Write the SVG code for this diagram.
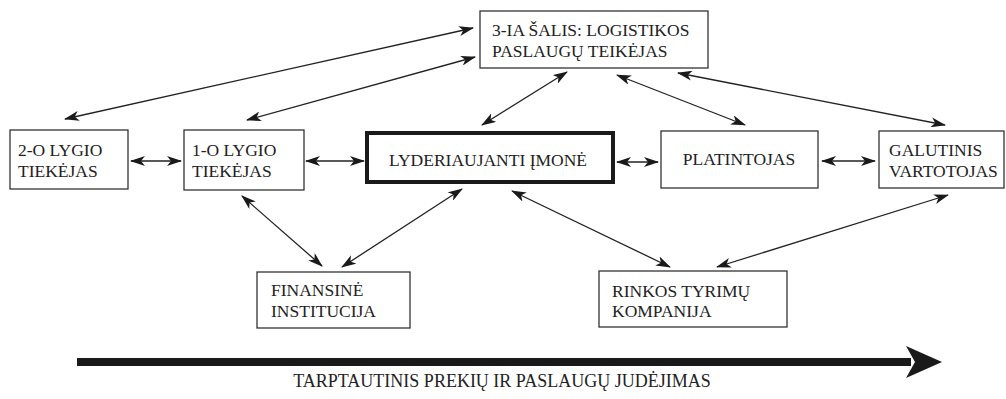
<svg xmlns="http://www.w3.org/2000/svg" width="1006" height="399" viewBox="0 0 1006 399">
  <style>
    .box { fill: #fff; stroke: #333; stroke-width: 1.3; }
    .lead { fill: #fff; stroke: #1a1a1a; stroke-width: 4; }
    text { font-family: "Liberation Serif", "Times New Roman", "DejaVu Serif", serif; font-size: 17.5px; fill: #222; }
    .link { stroke: #222; stroke-width: 1.3; fill: none; marker-start: url(#head); marker-end: url(#head); }
  </style>
  <defs>
    <marker id="head" viewBox="0 0 15 10" refX="14" refY="5" markerWidth="15" markerHeight="10" markerUnits="userSpaceOnUse" orient="auto-start-reverse">
      <path d="M0,0 L15,5 L0,10 L4,5 Z" fill="#1a1a1a"/>
    </marker>
  </defs>

  <g id="node-3pl">
    <rect class="box" x="480" y="11" width="228" height="57"/>
    <text x="492" y="36">3-IA ŠALIS: LOGISTIKOS</text>
    <text x="492" y="57">PASLAUGŲ TEIKĖJAS</text>
  </g>
  <g id="node-tier2">
    <rect class="box" x="10" y="130" width="118" height="59"/>
    <text x="18" y="156">2-O LYGIO</text>
    <text x="18" y="177">TIEKĖJAS</text>
  </g>
  <g id="node-tier1">
    <rect class="box" x="184" y="130" width="120" height="60"/>
    <text x="192" y="156">1-O LYGIO</text>
    <text x="192" y="177">TIEKĖJAS</text>
  </g>
  <g id="node-leader">
    <rect class="lead" x="367" y="133" width="246" height="49"/>
    <text x="488" y="166" text-anchor="middle">LYDERIAUJANTI ĮMONĖ</text>
  </g>
  <g id="node-distributor">
    <rect class="box" x="661" y="131" width="157" height="57"/>
    <text x="739" y="165" text-anchor="middle">PLATINTOJAS</text>
  </g>
  <g id="node-consumer">
    <rect class="box" x="879" y="131" width="125" height="57"/>
    <text x="889" y="156">GALUTINIS</text>
    <text x="889" y="177">VARTOTOJAS</text>
  </g>
  <g id="node-finance">
    <rect class="box" x="257" y="272" width="153" height="56"/>
    <text x="271" y="296">FINANSINĖ</text>
    <text x="271" y="317">INSTITUCIJA</text>
  </g>
  <g id="node-research">
    <rect class="box" x="599" y="271" width="188" height="56"/>
    <text x="612" y="297">RINKOS TYRIMŲ</text>
    <text x="612" y="317">KOMPANIJA</text>
  </g>

  <g id="connectors">
    <line class="link" x1="473" y1="28" x2="65" y2="119"/>
    <line class="link" x1="475" y1="57" x2="247" y2="120"/>
    <line class="link" x1="567" y1="72" x2="482" y2="125"/>
    <line class="link" x1="617" y1="75" x2="745" y2="125"/>
    <line class="link" x1="678" y1="73" x2="945" y2="125"/>
    <line class="link" x1="131" y1="161" x2="181" y2="161"/>
    <line class="link" x1="306" y1="161" x2="364" y2="161"/>
    <line class="link" x1="617" y1="162" x2="658" y2="162"/>
    <line class="link" x1="822" y1="161" x2="875" y2="161"/>
    <line class="link" x1="242" y1="196" x2="322" y2="266"/>
    <line class="link" x1="462" y1="189" x2="342" y2="267"/>
    <line class="link" x1="512" y1="191" x2="670" y2="267"/>
    <line class="link" x1="948" y1="195" x2="717" y2="267"/>
  </g>

  <g id="flow">
    <rect x="77" y="358" width="834" height="8" fill="#1a1a1a"/>
    <path d="M942,362 L906,346 L915,362 L906,378 Z" fill="#1a1a1a"/>
    <text x="502" y="387" text-anchor="middle" style="font-size:18px">TARPTAUTINIS PREKIŲ IR PASLAUGŲ JUDĖJIMAS</text>
  </g>
</svg>
